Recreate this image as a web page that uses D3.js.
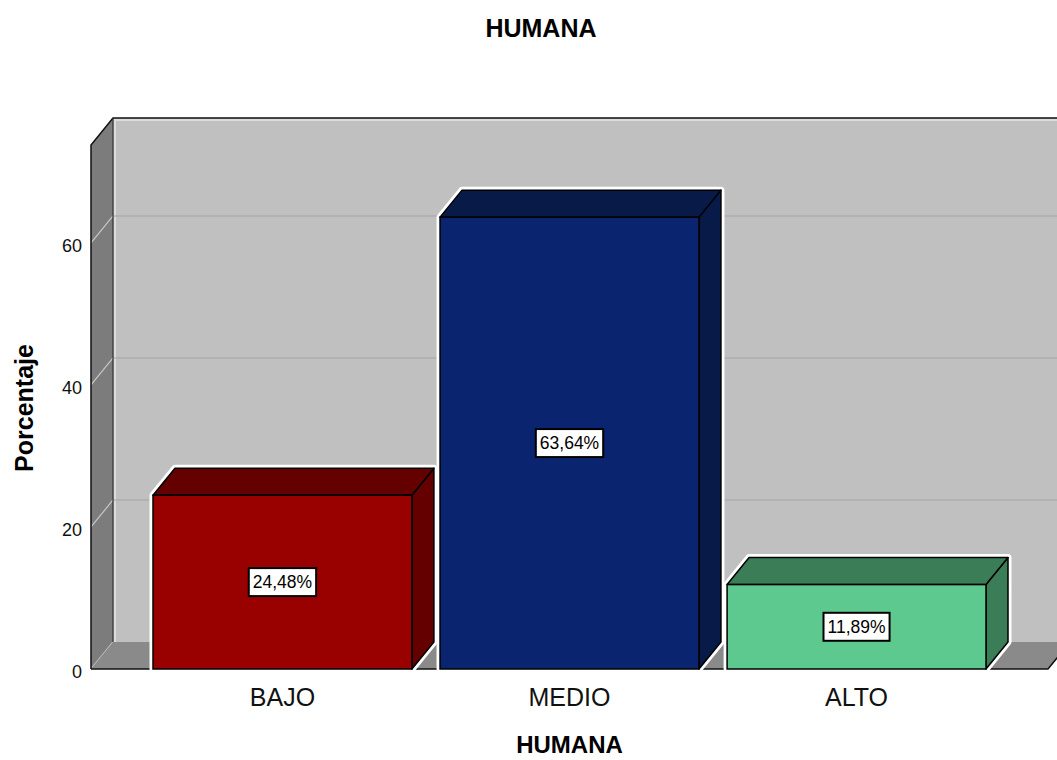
<!DOCTYPE html>
<html>
<head>
<meta charset="utf-8">
<script src="https://cdn.jsdelivr.net/npm/d3@7"></script>
<style>
  body { margin: 0; background: #fff; }
  svg { display: block; font-family: "Liberation Sans", Arial, sans-serif; }
</style>
</head>
<body>
<div id="chart"></div>
<script>
// Data
const categories = ["BAJO", "MEDIO", "ALTO"];
const values = [24.48, 63.64, 11.89];
const yTicks = [0, 20, 40, 60];
const frontColors = ["#990000", "#0a2470", "#5ec98e"];
const darkColors = ["#640000", "#081a48", "#3b7d57"];

const width = 1057;
const height = 760;

// Plot geometry (front plane) and 3D depth offset
const x0 = 91, x1 = 1048;
const yBottom = 669, yTop = 145;
const dx = 22, dy = -27;

const x = d3.scaleBand()
  .domain(categories)
  .range([x0, x1])
  .paddingInner(0.098)
  .paddingOuter(0.216);

const y = d3.scaleLinear()
  .domain([0, 73.8])
  .range([yBottom, yTop]);

const svg = d3.select("#chart").append("svg")
  .attr("width", width)
  .attr("height", height)
  .attr("viewBox", [0, 0, width, height]);

// Back wall
svg.append("rect")
  .attr("x", x0 + dx).attr("y", yTop + dy)
  .attr("width", x1 - x0).attr("height", yBottom - yTop)
  .attr("fill", "#c0c0c0");

// light highlight inside back wall
svg.append("path")
  .attr("d", `M${x0 + dx + 2},${yBottom + dy}V${yTop + dy + 2}H${x1 + dx}`)
  .attr("fill", "none").attr("stroke", "#dcdcdc").attr("stroke-width", 2);

// Gridlines on back wall
svg.append("g")
  .selectAll("line")
  .data(yTicks.filter(d => d > 0))
  .join("line")
    .attr("x1", x0 + dx).attr("x2", x1 + dx)
    .attr("y1", d => y(d) + dy).attr("y2", d => y(d) + dy)
    .attr("stroke", "#a4a4a4").attr("stroke-width", 1.2);

// Left wall
svg.append("path")
  .attr("d", `M${x0},${yBottom}V${yTop}L${x0 + dx},${yTop + dy}V${yBottom + dy}Z`)
  .attr("fill", "#7c7c7c");

// Gridlines on left wall
svg.append("g")
  .selectAll("line")
  .data(yTicks)
  .join("line")
    .attr("x1", x0).attr("x2", x0 + dx)
    .attr("y1", d => y(d)).attr("y2", d => y(d) + dy)
    .attr("stroke", "#c8c8c8").attr("stroke-width", 1.2);

// Floor
svg.append("path")
  .attr("d", `M${x0},${yBottom}L${x0 + dx},${yBottom + dy}H${x1 + dx}L${x1},${yBottom}Z`)
  .attr("fill", "#8a8a8a");

// Wall outlines
svg.append("path")
  .attr("d", `M${x0},${yBottom}V${yTop}L${x0 + dx},${yTop + dy}H${x1 + dx}`)
  .attr("fill", "none").attr("stroke", "#111").attr("stroke-width", 1.5);
svg.append("path")
  .attr("d", `M${x0 + dx},${yTop + dy}V${yBottom + dy}`)
  .attr("fill", "none").attr("stroke", "#333").attr("stroke-width", 1.2);
svg.append("path")
  .attr("d", `M${x0},${yBottom}H${x1}L${x1 + dx},${yBottom + dy}`)
  .attr("fill", "none").attr("stroke", "#111").attr("stroke-width", 1.5);

// Y tick labels
svg.append("g")
  .selectAll("text")
  .data(yTicks)
  .join("text")
    .attr("x", 82)
    .attr("y", d => y(d) + 3)
    .attr("dy", "0.35em")
    .attr("text-anchor", "end")
    .attr("font-size", 18)
    .attr("fill", "#111")
    .text(d => d);

// Bars
const bw = x.bandwidth();
const bars = svg.append("g")
  .selectAll("g")
  .data(categories.map((c, i) => ({c, v: values[i], i})))
  .join("g");

// white halo
bars.append("path")
  .attr("d", d => {
    const l = x(d.c), r = l + bw, t = y(d.v);
    return `M${l},${yBottom}V${t}L${l + dx},${t + dy}H${r + dx}V${yBottom + dy}L${r},${yBottom}Z`;
  })
  .attr("fill", "none")
  .attr("stroke", "#fff")
  .attr("stroke-width", 7)
  .attr("stroke-linejoin", "round");

// side face
bars.append("path")
  .attr("d", d => {
    const r = x(d.c) + bw, t = y(d.v);
    return `M${r},${t}L${r + dx},${t + dy}V${yBottom + dy}L${r},${yBottom}Z`;
  })
  .attr("fill", d => darkColors[d.i])
  .attr("stroke", "#000").attr("stroke-width", 1.5).attr("stroke-linejoin", "round");

// top face
bars.append("path")
  .attr("d", d => {
    const l = x(d.c), r = l + bw, t = y(d.v);
    return `M${l},${t}L${l + dx},${t + dy}H${r + dx}L${r},${t}Z`;
  })
  .attr("fill", d => darkColors[d.i])
  .attr("stroke", "#000").attr("stroke-width", 1.5).attr("stroke-linejoin", "round");

// front face
bars.append("rect")
  .attr("x", d => x(d.c))
  .attr("y", d => y(d.v))
  .attr("width", bw)
  .attr("height", d => yBottom - y(d.v))
  .attr("fill", d => frontColors[d.i])
  .attr("stroke", "#000").attr("stroke-width", 1.5);

// value labels
const fmt = v => d3.format(".2f")(v).replace(".", ",") + "%";
const labels = bars.append("g")
  .attr("transform", d => `translate(${x(d.c) + bw / 2},${(y(d.v) + yBottom) / 2})`);

labels.append("text")
  .attr("text-anchor", "middle")
  .attr("dy", "0.35em")
  .attr("font-size", 17.5)
  .attr("fill", "#000")
  .text(d => fmt(d.v));

labels.each(function() {
  const g = d3.select(this);
  const b = g.select("text").node().getBBox();
  g.insert("rect", "text")
    .attr("x", b.x - 4).attr("y", -14)
    .attr("width", b.width + 8).attr("height", 28)
    .attr("fill", "#fff")
    .attr("stroke", "#000").attr("stroke-width", 2);
});

// Category labels
svg.append("g")
  .selectAll("text")
  .data(categories)
  .join("text")
    .attr("x", d => x(d) + bw / 2)
    .attr("y", 706)
    .attr("text-anchor", "middle")
    .attr("font-size", 25)
    .attr("fill", "#111")
    .text(d => d);

// Titles
svg.append("text")
  .attr("x", 541).attr("y", 37)
  .attr("text-anchor", "middle")
  .attr("font-size", 25).attr("font-weight", "bold")
  .text("HUMANA");

svg.append("text")
  .attr("x", (x0 + x1) / 2).attr("y", 753)
  .attr("text-anchor", "middle")
  .attr("font-size", 24).attr("font-weight", "bold")
  .text("HUMANA");

svg.append("text")
  .attr("transform", `translate(33,408) rotate(-90)`)
  .attr("text-anchor", "middle")
  .attr("font-size", 25).attr("font-weight", "bold")
  .text("Porcentaje");
</script>
</body>
</html>
